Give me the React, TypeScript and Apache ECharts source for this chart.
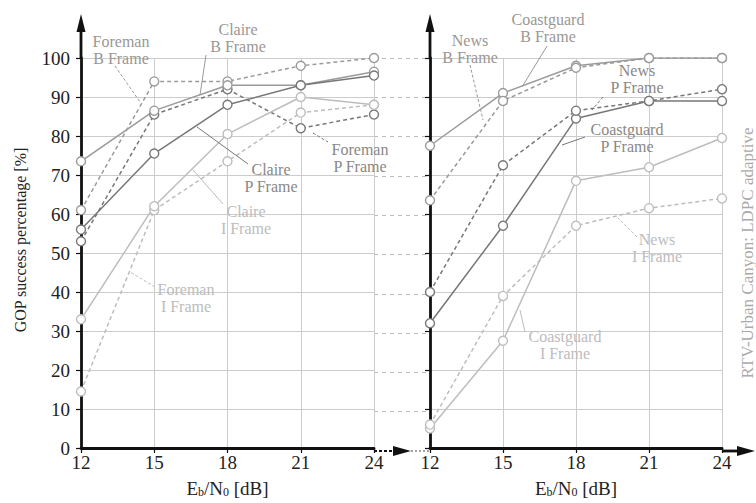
import React, { useEffect, useRef } from "react";
import * as echarts from "echarts";

const dB = [12, 15, 18, 21, 24];

// Left panel (Foreman / Claire)
const foremanB = [61, 94, 94, 98, 100];
const foremanP = [53, 85.5, 92, 82, 85.5];
const foremanI = [14.5, 61, 73.5, 86, 88];
const claireB = [73.5, 86.5, 93, 93, 96.5];
const claireP = [56, 75.5, 88, 93, 95.5];
const claireI = [33, 62, 80.5, 90, 88];

// Right panel (Coastguard / News)
const coastB = [77.5, 91, 98, 100, 100];
const coastP = [32, 57, 84.5, 89, 89];
const coastI = [5, 27.5, 68.5, 72, 79.5];
const newsB = [63.5, 89, 97.5, 100, 100];
const newsP = [40, 72.5, 86.5, 89, 92];
const newsI = [6, 39, 57, 61.5, 64];

const FONT = "Liberation Serif";
const C_B = "#9a9a9a";
const C_P = "#777777";
const C_I = "#bdbdbd";
const T_B = "#9a9793";
const T_P = "#8a8784";
const T_I = "#bcbcbc";

type S = { name: string; vals: number[]; color: string; dashed: boolean; panel: number };
const seriesDefs: S[] = [
  { name: "Foreman B Frame", vals: foremanB, color: C_B, dashed: true, panel: 0 },
  { name: "Foreman P Frame", vals: foremanP, color: C_P, dashed: true, panel: 0 },
  { name: "Foreman I Frame", vals: foremanI, color: C_I, dashed: true, panel: 0 },
  { name: "Claire B Frame", vals: claireB, color: C_B, dashed: false, panel: 0 },
  { name: "Claire P Frame", vals: claireP, color: C_P, dashed: false, panel: 0 },
  { name: "Claire I Frame", vals: claireI, color: C_I, dashed: false, panel: 0 },
  { name: "Coastguard B Frame", vals: coastB, color: C_B, dashed: false, panel: 1 },
  { name: "Coastguard P Frame", vals: coastP, color: C_P, dashed: false, panel: 1 },
  { name: "Coastguard I Frame", vals: coastI, color: C_I, dashed: false, panel: 1 },
  { name: "News B Frame", vals: newsB, color: C_B, dashed: true, panel: 1 },
  { name: "News P Frame", vals: newsP, color: C_P, dashed: true, panel: 1 },
  { name: "News I Frame", vals: newsI, color: C_I, dashed: true, panel: 1 },
];

type L = { l1: string; l2: string; cx: number; y1: number; y2: number; tc: string; a: number[]; b: number[]; dashed: boolean; lc: string };
const labels: L[] = [
  { l1: "Foreman", l2: "B Frame", cx: 121, y1: 41, y2: 58, tc: T_B, a: [115, 66], b: [140, 102], dashed: true, lc: C_B },
  { l1: "Claire", l2: "B Frame", cx: 238, y1: 29, y2: 46, tc: T_B, a: [206, 55], b: [200, 95], dashed: false, lc: C_B },
  { l1: "Claire", l2: "P Frame", cx: 271, y1: 169, y2: 186, tc: T_P, a: [248, 164], b: [197, 127], dashed: false, lc: C_P },
  { l1: "Claire", l2: "I Frame", cx: 246, y1: 211, y2: 228, tc: T_I, a: [223, 204], b: [193, 170], dashed: false, lc: C_I },
  { l1: "Foreman", l2: "P Frame", cx: 360, y1: 149, y2: 166, tc: T_P, a: [313, 133], b: [328, 142], dashed: true, lc: C_P },
  { l1: "Foreman", l2: "I Frame", cx: 186, y1: 289, y2: 306, tc: T_I, a: [155, 287], b: [130, 272], dashed: true, lc: C_I },
  { l1: "Coastguard", l2: "B Frame", cx: 548, y1: 19, y2: 36, tc: T_B, a: [547, 46], b: [522, 87], dashed: false, lc: C_B },
  { l1: "News", l2: "B Frame", cx: 470, y1: 40, y2: 57, tc: T_B, a: [470, 65], b: [483, 120], dashed: true, lc: C_B },
  { l1: "News", l2: "P Frame", cx: 637, y1: 70, y2: 87, tc: T_P, a: [603, 97], b: [592, 110], dashed: true, lc: C_P },
  { l1: "Coastguard", l2: "P Frame", cx: 627, y1: 129, y2: 146, tc: T_P, a: [585, 137], b: [562, 145], dashed: false, lc: C_P },
  { l1: "News", l2: "I Frame", cx: 657, y1: 239, y2: 256, tc: T_I, a: [637, 237], b: [618, 218], dashed: true, lc: C_I },
  { l1: "Coastguard", l2: "I Frame", cx: 565, y1: 336, y2: 353, tc: T_I, a: [525, 332], b: [520, 310], dashed: false, lc: C_I },
];

export default function App() {
  const ref = useRef<HTMLDivElement>(null);
  useEffect(() => {
    if (!ref.current) return;
    const chart = echarts.init(ref.current, null, { renderer: "svg" });

    const xName = {
      rich: {
        n: { fontFamily: FONT, fontSize: 19, color: "#222" },
        s: { fontFamily: FONT, fontSize: 12, color: "#222", padding: [7, 0, 0, 0] },
      },
    };
    const xNameText = "{n|E}{s|b}{n|/N}{s|0}{n| [dB]}";

    const makeX = (gridIndex: number) => ({
      type: "value",
      gridIndex,
      min: 12,
      max: 24,
      interval: 3,
      name: xNameText,
      nameLocation: "middle",
      nameGap: 31,
      nameTextStyle: xName,
      axisLine: { show: true, lineStyle: { color: "#111", width: 2.8 } },
      axisTick: { show: true, length: 5, lineStyle: { color: "#111", width: 1.2 } },
      axisLabel: { fontFamily: FONT, fontSize: 19, color: "#222", margin: 5 },
      splitLine: { show: true, lineStyle: { color: "#cccccc", width: 1 } },
    });
    const makeY = (gridIndex: number, showLabels: boolean) => ({
      type: "value",
      gridIndex,
      min: 0,
      max: 100,
      interval: 10,
      axisLine: { show: true, lineStyle: { color: "#111", width: 2.8 } },
      axisTick: { show: true, length: 5, lineStyle: { color: "#111", width: 1.2 } },
      axisLabel: { show: showLabels, fontFamily: FONT, fontSize: 19, color: "#222", margin: 11 },
      splitLine: { show: true, lineStyle: { color: "#cccccc", width: 1 } },
    });

    const series: any[] = seriesDefs.map((s) => ({
      name: s.name,
      type: "line",
      xAxisIndex: s.panel,
      yAxisIndex: s.panel,
      data: dB.map((x, i) => [x, s.vals[i]]),
      symbol: "circle",
      symbolSize: 9,
      showSymbol: true,
      lineStyle: { color: s.color, width: 1.5, type: s.dashed ? [4, 3] : "solid" },
      itemStyle: { color: "#ffffff", borderColor: s.color, borderWidth: 1.4 },
      z: 3,
    }));

    const graphics: any[] = [];
    labels.forEach((l) => {
      graphics.push({
        type: "line",
        shape: { x1: l.a[0], y1: l.a[1], x2: l.b[0], y2: l.b[1] },
        style: { stroke: l.lc, lineWidth: 1, lineDash: l.dashed ? [3, 2] : null },
        z: 5,
      });
      [l.l1, l.l2].forEach((t, k) => {
        graphics.push({
          type: "text",
          style: { text: t, x: l.cx, y: k === 0 ? l.y1 : l.y2, fill: l.tc, font: `16px "${FONT}"`, textAlign: "center", textVerticalAlign: "middle" },
          z: 6,
        });
      });
    });
    const black = "#111";
    [81, 430].forEach((x) => {
      graphics.push({ type: "line", shape: { x1: x, y1: 58, x2: x, y2: 28 }, style: { stroke: black, lineWidth: 2.8 }, z: 4 });
      graphics.push({ type: "polygon", shape: { points: [[x - 4.5, 32], [x, 14], [x + 4.5, 32]] }, style: { fill: black }, z: 4 });
    });
    graphics.push({ type: "line", shape: { x1: 374, y1: 451, x2: 393, y2: 451 }, style: { stroke: black, lineWidth: 2, lineDash: [3, 2] }, z: 4 });
    graphics.push({ type: "polygon", shape: { points: [[393, 446], [411, 451], [393, 456]] }, style: { fill: black }, z: 4 });
    graphics.push({ type: "line", shape: { x1: 411, y1: 451, x2: 430, y2: 451 }, style: { stroke: "#888", lineWidth: 1.5, lineDash: [2, 2] }, z: 4 });
    graphics.push({ type: "line", shape: { x1: 722, y1: 451, x2: 740, y2: 451 }, style: { stroke: black, lineWidth: 2.8 }, z: 4 });
    graphics.push({ type: "polygon", shape: { points: [[737, 446], [755, 451], [737, 456]] }, style: { fill: black }, z: 4 });
    graphics.push({
      type: "text",
      x: 747,
      y: 253,
      rotation: Math.PI / 2,
      style: { text: "RTV-Urban Canyon: LDPC adaptive", x: 0, y: 0, fill: "#aaaaaa", font: `17px "${FONT}"`, textAlign: "center", textVerticalAlign: "middle" },
      z: 6,
    });
    graphics.push({
      type: "text",
      x: 20,
      y: 240,
      rotation: Math.PI / 2,
      style: { text: "GOP success percentage [%]", x: 0, y: 0, fill: "#222", font: `16px "${FONT}"`, textAlign: "center", textVerticalAlign: "middle" },
      z: 6,
    });

    chart.setOption({
      animation: false,
      backgroundColor: "#ffffff",
      grid: [
        { left: 81, right: 382, top: 58, bottom: 52 },
        { left: 430, right: 34, top: 58, bottom: 52 },
        { left: 374, right: 326, top: 58, bottom: 52 },
      ],
      xAxis: [
        makeX(0),
        makeX(1),
        { type: "value", gridIndex: 2, min: 0, max: 1, show: false },
      ],
      yAxis: [
        makeY(0, true),
        makeY(1, false),
        {
          type: "value",
          gridIndex: 2,
          min: 0,
          max: 100,
          interval: 10,
          axisLine: { show: false },
          axisTick: { show: false },
          axisLabel: { show: false },
          splitLine: { show: true, showMinLine: false, lineStyle: { color: "#bbbbbb", width: 1, type: [4, 4] } },
        },
      ],
      series,
      graphic: graphics,
    });
    return () => chart.dispose();
  }, []);
  return <div ref={ref} style={{ position: "fixed", left: 0, top: 0, width: 756, height: 503, background: "#fff" }} />;
}
